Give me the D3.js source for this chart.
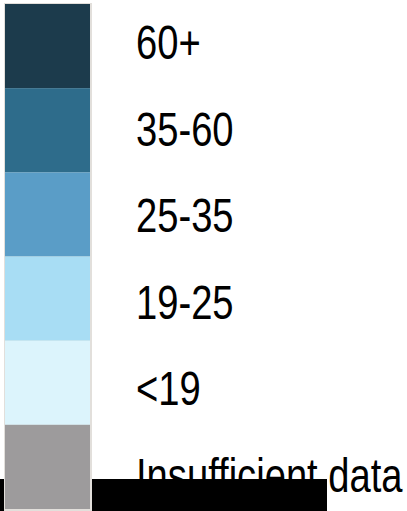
<!DOCTYPE html>
<html>
<head>
<meta charset="utf-8">
<script src="https://d3js.org/d3.v7.min.js"></script>
<style>
  body { margin: 0; background: #fff; }
  text { font-family: "Liberation Sans", sans-serif; }
</style>
</head>
<body>
<svg id="legend" width="407" height="511"></svg>
<script>
// legend classes, top to bottom
var labels = ["60+", "35-60", "25-35", "19-25", "<19", "Insufficient data"];
var colors = ["#1c3b4c", "#2e6c8b", "#5a9dc7", "#a8ddf4", "#dcf4fc", "#9d9b9c"];

var svg = d3.select("#legend");

// swatch column
var y = d3.scaleBand().domain(labels).range([4, 509]);
// label baselines
var ty = d3.scalePoint().domain(labels).range([59, 492]);

// labels (condensed look: squeeze horizontally)
svg.selectAll("text.lab").data(labels).enter()
  .append("text")
    .attr("class", "lab")
    .attr("transform", function(d) { return "translate(136," + ty(d) + ") scale(0.795,1)"; })
    .attr("font-size", 48)
    .attr("fill", "#000")
    .text(function(d) { return d; });

// black bar over the bottom
svg.append("rect")
  .attr("x", 0).attr("y", 479)
  .attr("width", 327).attr("height", 32)
  .attr("fill", "#000");

// outer frame
svg.append("rect")
  .attr("x", 4).attr("y", 3)
  .attr("width", 88).attr("height", 508)
  .attr("fill", "#e2dfdb");

// swatches
svg.selectAll("rect.sw").data(labels).enter()
  .append("rect")
    .attr("class", "sw")
    .attr("x", 5)
    .attr("y", function(d) { return y(d); })
    .attr("width", 85)
    .attr("height", y.bandwidth())
    .attr("fill", function(d, i) { return colors[i]; });
</script>
</body>
</html>
